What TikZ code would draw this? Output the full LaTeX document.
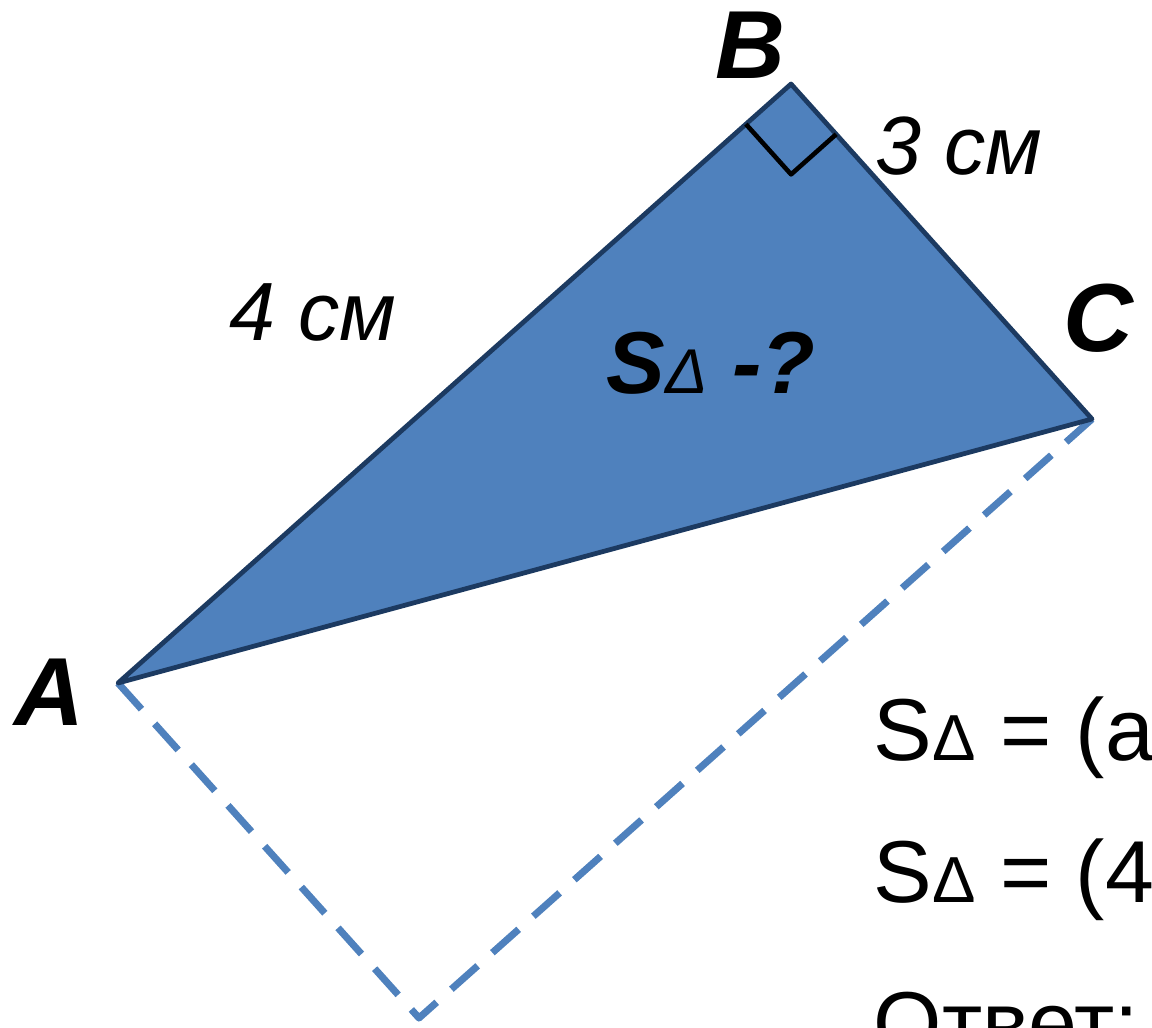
\documentclass[tikz,border=0pt]{standalone}
\usepackage{fontspec}
\setmainfont{Liberation Sans}
\usetikzlibrary{calc}
\definecolor{trifill}{HTML}{4F81BD}
\definecolor{triedge}{HTML}{1C3A61}
\begin{document}
\begin{tikzpicture}[
				x=0.01cm, y=-0.01cm,
				line join=round,
				vertex/.style={font=\fontsize{27.5}{30}\selectfont\bfseries\itshape, inner sep=0pt, anchor=base west},
				side/.style={font=\fontsize{23.5}{28}\selectfont\itshape, inner sep=0pt, anchor=base west},
				formula/.style={font=\fontsize{25}{30}\selectfont, inner sep=0pt, anchor=base west}
				]
				\useasboundingbox (0,0) rectangle (1152,1027);
				\clip (0,0) rectangle (1152,1027);
				\def\tri#1{{\fontsize{#1}{#1}\selectfont Δ}}
				\coordinate (A) at (118,683);
				\coordinate (B) at (791,84);
				\coordinate (C) at (1092,419);
				\coordinate (D) at ($(A)+(C)-(B)$);
				\draw[trifill, line width=2pt, line cap=butt, dash pattern=on 10pt off 5.6pt] (A) -- (D) -- (C);
				\fill[trifill] (A) -- (B) -- (C) -- cycle;
				\draw[triedge, line width=1.35pt] (A) -- (B) -- (C) -- cycle;
				\coordinate (BA) at ($(B)!0.067!(A)$);
				\coordinate (BC) at ($(B)!0.15!(C)$);
				\draw[black, line width=1.3pt] (BA) -- ($(BA)+(BC)-(B)$) -- (BC);
				\node[vertex] (lA) at (14,725) {A};
				\node[vertex] (lB) at (715,78) {B};
				\node[vertex] (lC) at (1063,351) {C};
				\node[side] (lAB) at (229,340) {4 см};
				\node[side] (lBC) at (875,174) {3 см};
				\node[vertex, font=\fontsize{25}{30}\selectfont\bfseries\itshape] (ask) at (606,393) {S{\mdseries\fontsize{18}{20}\selectfont Δ} -?};
				\node[formula] (f1) at (873,760) {S\tri{18.5} = (a};
				\node[formula] (f2) at (873,902) {S\tri{18.5} = (4};
				\node[formula] (f3) at (873,1053) {Ответ:};
			\end{tikzpicture}
\end{document}
